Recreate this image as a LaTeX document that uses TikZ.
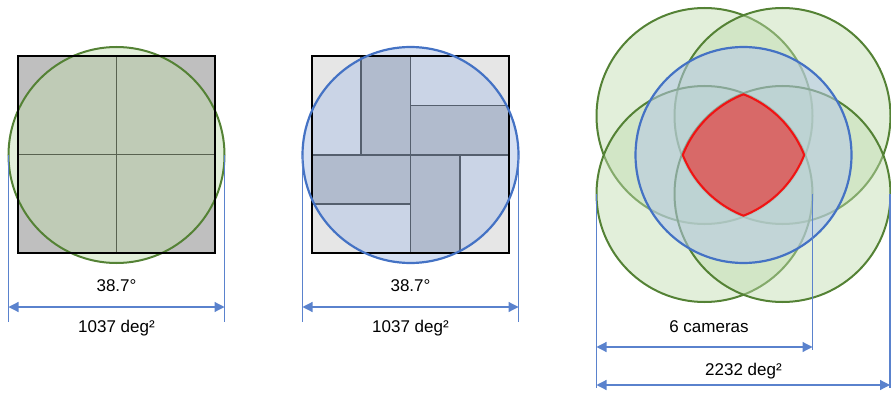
\documentclass[tikz,border=0pt]{standalone}
\usepackage{fontspec}
\setmainfont{Liberation Sans}
\usetikzlibrary{arrows.meta}
\definecolor{camgreen}{RGB}{84,130,53}
\definecolor{camgreenfill}{RGB}{191,219,173}
\definecolor{camblue}{RGB}{68,114,196}
\definecolor{cambluefill}{RGB}{180,199,231}
\definecolor{dimblue}{RGB}{90,130,205}
\definecolor{chipgray}{RGB}{191,191,191}
\definecolor{chiplight}{RGB}{230,230,230}
\definecolor{chipline}{RGB}{88,98,80}
\definecolor{tileline}{RGB}{85,95,110}
\definecolor{tilefill}{RGB}{120,130,150}
\definecolor{overlapred}{RGB}{240,20,20}
\tikzset{
  fov/.style={draw=camgreen, line width=2pt, fill=camgreenfill, fill opacity=0.45},
  fovblue/.style={draw=camblue, line width=2.2pt, fill=cambluefill, fill opacity=0.55},
  tile/.style={draw=tileline, line width=1.8pt, fill=tilefill, fill opacity=0.3},
  dimline/.style={draw=dimblue, line width=1.2pt},
  dimarrow/.style={dimline, {Triangle[length=10pt,width=10pt]}-{Triangle[length=10pt,width=10pt]}},
  dimtext/.style={anchor=base, font=\fontsize{17}{20}\selectfont}
}
\begin{document}
\begin{tikzpicture}[x=1pt,y=-1pt]
\useasboundingbox (0,0) rectangle (891,393);
% single camera, 2x2 chips
\fill[chipgray] (18,56) rectangle (215,253);
\draw[fov] (116.5,155) circle (108);
\draw[chipline, line width=1.8pt] (116.5,56) -- (116.5,253) (18,154.5) -- (215,154.5);
\draw[black, line width=2pt] (18,56) rectangle (215,253);
\coordinate (Atl) at (8.5,155);  \coordinate (Abl) at (8.5,322);
\coordinate (Atr) at (224.5,155); \coordinate (Abr) at (224.5,322);
\coordinate (Aal) at (8.5,307);  \coordinate (Aar) at (224.5,307);
\draw[dimline] (Atl) -- (Abl);
\draw[dimline] (Atr) -- (Abr);
\draw[dimarrow] (Aal) -- (Aar);
\node[dimtext] (fovA) at (116.5,291) {38.7°};
\node[dimtext] (areaA) at (116.5,332) {1037 deg²};
% single camera, pinwheel chips
\fill[chiplight] (312,56) rectangle (509,253);
\fill[cambluefill, fill opacity=0.55] (410.5,155) circle (108);
\draw[tile] (361,56) rectangle (410.5,155);
\draw[tile] (410.5,105.5) rectangle (509,155);
\draw[tile] (312,155) rectangle (410.5,204);
\draw[tile] (410.5,155) rectangle (460,253);
\draw[black, line width=2pt] (312,56) rectangle (509,253);
\draw[camblue, line width=2.2pt] (410.5,155) circle (108);
\coordinate (Btl) at (302.5,155); \coordinate (Bbl) at (302.5,322);
\coordinate (Btr) at (518.5,155); \coordinate (Bbr) at (518.5,322);
\coordinate (Bal) at (302.5,307); \coordinate (Bar) at (518.5,307);
\draw[dimline] (Btl) -- (Bbl);
\draw[dimline] (Btr) -- (Bbr);
\draw[dimarrow] (Bal) -- (Bar);
\node[dimtext] (fovB) at (410.5,291) {38.7°};
\node[dimtext] (areaB) at (410.5,332) {1037 deg²};
% six cameras
\draw[fov] (704.5,116) circle (108);
\draw[fov] (782.5,116) circle (108);
\draw[fov] (704.5,194) circle (108);
\draw[fov] (782.5,194) circle (108);
\draw[fovblue] (743.5,155) circle (108);
\begin{scope}
\clip (704.5,116) circle (108);
\clip (782.5,116) circle (108);
\clip (704.5,194) circle (108);
\clip (782.5,194) circle (108);
\fill[overlapred, fill opacity=0.55] (600,0) rectangle (891,393);
\draw[overlapred, line width=4pt] (704.5,116) circle (108) (782.5,116) circle (108)
  (704.5,194) circle (108) (782.5,194) circle (108);
\end{scope}
\coordinate (Ctl) at (596.5,194); \coordinate (Cbl) at (596.5,388);
\coordinate (Ctm) at (812.5,194); \coordinate (Cbm) at (812.5,350);
\coordinate (Ctr) at (890,194); \coordinate (Cbr) at (890,388);
\coordinate (Cal) at (596.5,347); \coordinate (Cam) at (812.5,347);
\coordinate (Cbl2) at (596.5,385); \coordinate (Cbr2) at (890,385);
\draw[dimline] (Ctl) -- (Cbl);
\draw[dimline] (Ctm) -- (Cbm);
\draw[dimline] (Ctr) -- (Cbr);
\draw[dimarrow] (Cal) -- (Cam);
\draw[dimarrow] (Cbl2) -- (Cbr2);
\node[dimtext] (camC) at (709,332) {6 cameras};
\node[dimtext] (areaC) at (743.5,375) {2232 deg²};
\end{tikzpicture}
\end{document}
